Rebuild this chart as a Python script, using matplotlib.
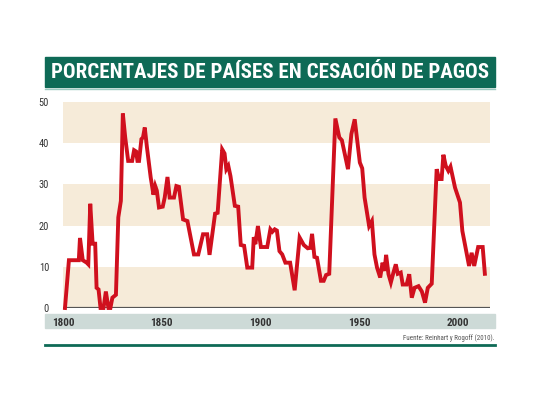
import matplotlib
matplotlib.use('Agg')
import matplotlib.pyplot as plt
from matplotlib.patches import Rectangle
from matplotlib.lines import Line2D

# valores (Reinhart y Rogoff)
years = [1801, 1803, 1808, 1808.6, 1810, 1812, 1812.8, 1813.8, 1815, 1816.3,
         1817, 1818, 1819, 1820.5, 1821.7, 1823, 1824, 1825, 1826.8, 1828,
         1829.3, 1830.3, 1831.5, 1833, 1835, 1836, 1837, 1837.7, 1838.5, 1839.7,
         1840.5, 1841.4, 1842.5, 1844.4, 1845.8, 1846.7, 1847.5, 1848.6, 1850.5, 1851.5,
         1852.9, 1854, 1856.2, 1857.4, 1858.7, 1860.8, 1863, 1866.3, 1868.5, 1870.9,
         1873, 1874.2, 1877, 1878.3, 1880.6, 1881.8, 1882.7, 1883.7, 1884.8, 1887,
         1888.7, 1890, 1891.7, 1893.3, 1895.8, 1896.6, 1897.4, 1898.7, 1900.2, 1903.4,
         1905, 1906, 1907.2, 1908.3, 1909.6, 1911, 1912.6, 1915, 1917.3, 1919.8,
         1921.9, 1923.9, 1925.2, 1926.1, 1927.3, 1928.6, 1930.6, 1932, 1933.2, 1934.8,
         1937.9, 1939.9, 1941.2, 1944.3, 1946, 1947.7, 1950.3, 1951.5, 1952.7, 1955,
         1956.4, 1957.7, 1959, 1960.6, 1961.8, 1962.8, 1963.6, 1964.8, 1966, 1967.3,
         1968.5, 1969.5, 1971, 1972, 1974, 1975.3, 1976.6, 1978, 1980, 1981.7,
         1983.3, 1984.7, 1986.7, 1989.2, 1990.4, 1991.7, 1992.6, 1993.8, 1995.1, 1996.2,
         1998.5, 2001, 2002.2, 2003.5, 2005.6, 2006.9, 2008.2, 2010.2, 2012.5, 2013.6]
pct = [0, 11.6, 11.6, 17, 11.6, 11, 10.6, 25.3, 15.6, 15.6,
       4.9, 4.5, 0, 0, 4, 0, 0, 2.5, 3.2, 22,
       26, 47.2, 41.4, 35.7, 35.7, 38.3, 38, 35.7, 35.7, 41,
       41.4, 43.8, 39, 31.7, 27.5, 29.6, 28.5, 24.4, 24.6, 26.8,
       31.8, 26.8, 26.8, 29.6, 29.4, 21.5, 21.1, 13, 13, 17.9,
       17.9, 12.9, 22.9, 23.1, 38.5, 37.5, 33.7, 34.5, 32, 24.8,
       24.6, 15.3, 15.1, 9.8, 9.8, 17.2, 15.5, 19.9, 14.8, 14.8,
       19.1, 18.5, 19.1, 18.8, 13.8, 13, 11, 11, 4.3, 17.1,
       15.3, 14.5, 14.6, 18, 12.4, 12.2, 6.6, 6.6, 8, 8.3,
       46, 41.4, 40.7, 33.7, 42.2, 45.8, 35.3, 33.9, 26.8, 19.9,
       21.1, 13, 9.8, 7.4, 11, 9, 12.9, 8.2, 6.2, 8.6,
       10.6, 8.3, 8.6, 5.7, 5.7, 8.2, 2.5, 4.9, 5.3, 4,
       1.3, 4.9, 5.9, 33.7, 31.3, 31.3, 37.2, 34.5, 33.3, 34.3,
       29.2, 25.6, 18.7, 15.5, 10.2, 13.4, 10.2, 14.8, 14.8, 8.3]

y_ticks = [0, 10, 20, 30, 40, 50]
x_ticks = [1800, 1850, 1900, 1950, 2000]
title = 'PORCENTAJES DE PAÍSES EN CESACIÓN DE PAGOS'
source = 'Fuente: Reinhart y Rogoff (2010).'

green = '#0e6a56'
beige = '#f6ebd9'
red = '#d0101e'
narrow = ['Liberation Sans Narrow', 'Roboto Condensed', 'DejaVu Sans']

fig = plt.figure(figsize=(5.4, 4.05), dpi=100)
W, H = 540.0, 405.0

def fx(px):
    return px / W

def fy(py):
    return 1 - py / H

# barra del titulo
fig.patches.append(Rectangle((fx(45), fy(87)), fx(495) - fx(45), fy(57) - fy(87),
                             transform=fig.transFigure, color=green, zorder=-1))
fig.lines.append(Line2D([fx(45), fx(495)], [fy(88.5), fy(88.5)], transform=fig.transFigure,
                        color='#9cc9c0', lw=1))
t = fig.text(fx(51), fy(72.5), title, color='white', fontsize=16, fontweight='black',
             family=narrow, fontstretch='condensed', va='center', ha='left')

# franja de los años
fig.patches.append(Rectangle((fx(45), fy(328)), fx(495) - fx(45), fy(313.5) - fy(328),
                             transform=fig.transFigure, color='#cddad7', zorder=-1))
fig.text(fx(495), fy(338), source, color='#555555', fontsize=5, family=narrow,
         fontstretch='condensed', ha='right', va='center')
fig.lines.append(Line2D([fx(45), fx(495)], [fy(345), fy(345)], transform=fig.transFigure,
                        color=green, lw=2))

ax = fig.add_axes([fx(63), fy(308), fx(490) - fx(63), fy(102) - fy(308)])
for lo in [0, 20, 40]:
    ax.axhspan(lo, lo + 10, color=beige, lw=0, zorder=0)
ax.plot(years, pct, color=red, lw=2.8, solid_joinstyle='miter', zorder=3, clip_on=False)
ax.axhline(0, color='#555555', lw=1.6, zorder=2)

ax.set_xlim(1800.5, 2016.2)
ax.set_ylim(0, 50)
for s in ax.spines.values():
    s.set_visible(False)
ax.set_yticks(y_ticks)
ax.set_yticklabels([str(v) for v in y_ticks], family=narrow, fontstretch='condensed',
                   fontsize=7.5, color='#333333')
ax.tick_params(axis='y', length=0, pad=10)
ax.set_xticks(x_ticks)
ax.set_xticklabels([str(v) for v in x_ticks], family=narrow, fontstretch='condensed',
                   fontsize=8, fontweight='bold', color='#333333')
ax.tick_params(axis='x', length=0, pad=7)
ax.patch.set_alpha(0)

# ajustar el titulo al ancho de la barra
fig.canvas.draw()
w = t.get_window_extent().width
if w > 437:
    t.set_fontsize(16 * 437 / w)

fig.savefig('out.png', dpi=100)
